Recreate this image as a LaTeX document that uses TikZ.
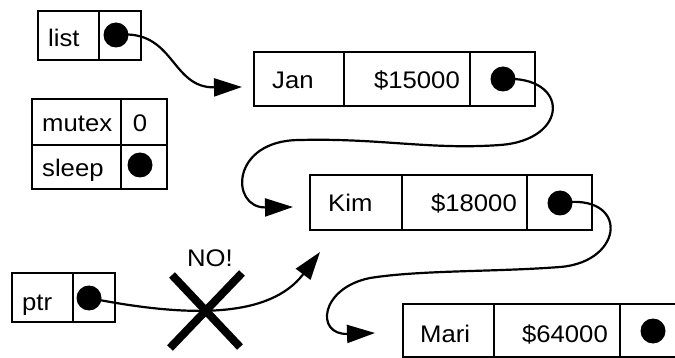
\documentclass[tikz,border=0pt]{standalone}
\usepackage{fontspec}
\setmainfont[FakeStretch=1.07]{Liberation Sans}
\usetikzlibrary{arrows.meta}
\tikzset{
  cell/.style={draw, line width=2.6pt, inner sep=0pt, outer sep=0pt, anchor=north west},
  dot/.style={circle, fill=black, minimum size=25pt, inner sep=0pt},
  txt/.style={inner sep=0pt, font=\fontsize{24}{29}\selectfont},
  lbl/.style={txt, anchor=base west},
  num/.style={txt, anchor=base east},
  ptrarrow/.style={line width=2.2pt, -{Triangle[length=28pt, width=18pt]}},
  cross/.style={line width=8pt}
}
\begin{document}
\begin{tikzpicture}[x=1pt, y=-1pt]
\useasboundingbox (0,0) rectangle (675,358);
\clip (0,0) rectangle (675,358);
% list
\node[cell, minimum width=61pt, minimum height=49pt] (listA) at (38,11) {};
\node[cell, minimum width=42pt, minimum height=49pt] (listB) at (99,11) {};
\node[lbl] (listT) at (48,47) {list};
\node[dot] (listD) at (116,35) {};
% mutex / sleep
\node[cell, minimum width=89pt, minimum height=46pt] (mutA) at (32,99) {};
\node[cell, minimum width=46pt, minimum height=46pt] (mutB) at (121,99) {};
\node[cell, minimum width=89pt, minimum height=44pt] (slpA) at (32,145) {};
\node[cell, minimum width=46pt, minimum height=44pt] (slpB) at (121,145) {};
\node[lbl] (mutT) at (42,132) {mutex};
\node[txt, anchor=base] (mutV) at (140,132) {0};
\node[lbl] (slpT) at (42,177) {sleep};
\node[dot] (slpD) at (140,165) {};
% Jan
\node[cell, minimum width=90pt, minimum height=54pt] (janA) at (254,52) {};
\node[cell, minimum width=126pt, minimum height=54pt] (janB) at (344,52) {};
\node[cell, minimum width=65pt, minimum height=54pt] (janC) at (470,52) {};
\node[lbl] (janT) at (272,89) {Jan};
\node[num] (janN) at (460,89) {\$15000};
\node[dot] (janD) at (503,79) {};
% Kim
\node[cell, minimum width=92pt, minimum height=55pt] (kimA) at (310,175) {};
\node[cell, minimum width=125pt, minimum height=55pt] (kimB) at (402,175) {};
\node[cell, minimum width=65pt, minimum height=55pt] (kimC) at (527,175) {};
\node[lbl] (kimT) at (328,212) {Kim};
\node[num] (kimN) at (517,212) {\$18000};
\node[dot] (kimD) at (560,203) {};
% Mari
\node[cell, minimum width=91pt, minimum height=53pt] (marA) at (403,304) {};
\node[cell, minimum width=126pt, minimum height=53pt] (marB) at (494,304) {};
\node[cell, minimum width=80pt, minimum height=53pt] (marC) at (620,304) {};
\node[lbl] (marT) at (420,342) {Mari};
\node[num] (marN) at (608,342) {\$64000};
\node[dot] (marD) at (653,331) {};
% ptr
\node[cell, minimum width=61pt, minimum height=49pt] (ptrA) at (12,273) {};
\node[cell, minimum width=42pt, minimum height=49pt] (ptrB) at (73,273) {};
\node[lbl] (ptrT) at (22,310) {ptr};
\node[dot] (ptrD) at (89,298) {};
% arrow ends
\coordinate (janIn) at (242,87);
\coordinate (kimIn) at (293,207);
\coordinate (marIn) at (375,333);
\coordinate (ptrEnd) at (320,252);
% connectors
\draw[ptrarrow] (listD.center) .. controls (175,28) and (170,88) .. (janIn);
\draw[ptrarrow] (janD.center) .. controls (570,75) and (570,140) .. (500,145)
  .. controls (430,150) and (380,138) .. (300,140)
  .. controls (230,140) and (230,208) .. (kimIn);
\draw[ptrarrow] (kimD.center) .. controls (630,192) and (625,262) .. (560,267)
  .. controls (495,272) and (420,270) .. (370,278)
  .. controls (320,288) and (315,335) .. (marIn);
\draw[ptrarrow] (ptrD.center) .. controls (190,318) and (270,318) .. (ptrEnd);
% cross
\draw[cross] (172,275) -- (240,347);
\draw[cross] (242,273) -- (170,348);
\node[txt, anchor=base] (no) at (210,266) {NO!};
\end{tikzpicture}
\end{document}
